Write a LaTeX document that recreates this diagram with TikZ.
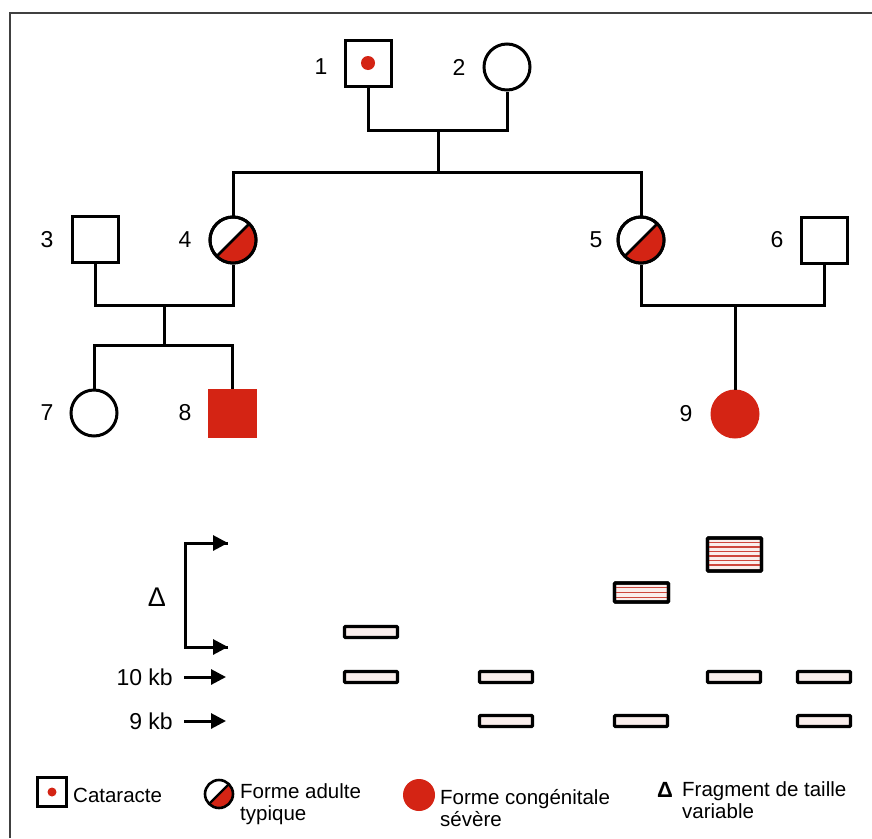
\documentclass[tikz,border=0pt]{standalone}
\usepackage{fontspec}
\setmainfont{Liberation Sans}
\usetikzlibrary{arrows.meta}
\definecolor{dred}{RGB}{212,36,20}
\definecolor{bandfill}{RGB}{250,238,236}
\definecolor{hatchred}{RGB}{205,70,60}
\tikzset{
  ln/.style={line width=3pt, black},
  sq/.style={draw, line width=3pt, minimum size=46pt, inner sep=0pt, fill=white},
  ci/.style={draw, circle, line width=3pt, minimum size=46pt, inner sep=0pt, fill=white},
  num/.style={font=\fontsize{23}{25}\selectfont, inner sep=0pt},
  leg/.style={font=\fontsize{20.5}{21.5}\selectfont, inner sep=0pt, align=left, anchor=west},
  band/.style={draw, line width=3.4pt, fill=bandfill, rounded corners=1pt},
  gelarrow/.style={line width=3pt, -{Triangle[length=15pt,width=15pt]}},
}
\begin{document}
\begin{tikzpicture}[x=1pt,y=-1pt]
\useasboundingbox (0,0) rectangle (872,838);
\fill[white] (0,0) rectangle (872,838);
% frame
\draw[line width=2pt, black!75] (10,838) -- (10,13) -- (872,13);

% ---------------- pedigree -----------------
\node[sq] (p1) at (368,63) {};
\fill[dred] (p1.center) circle (7);
\node[ci] (p2) at (507,67) {};
\node[num] (l1) at (321,67) {1};
\node[num] (l2) at (459,67) {2};

\node[sq] (p3) at (95,239) {};
\node[ci] (p4) at (233,240) {};
\node[num] (l3) at (47,240) {3};
\node[num] (l4) at (185,240) {4};

\node[ci] (p5) at (641,240) {};
\node[sq] (p6) at (824,240) {};
\node[num] (l5) at (596,240) {5};
\node[num] (l6) at (777,240) {6};

\node[ci] (p7) at (94,413) {};
\node[sq, fill=dred, draw=dred] (p8) at (232,413) {};
\node[num] (l7) at (47,413) {7};
\node[num] (l8) at (185,413) {8};

\node[ci, fill=dred, draw=dred] (p9) at (735,414) {};
\node[num] (l9) at (686,414) {9};

% half-filled circles (y axis points down: -45 is upper right)
\foreach \n in {p4,p5}{
  \fill[dred] (\n.center) ++(-45:23) arc (-45:135:23) -- cycle;
  \draw[line width=3pt] (\n.center) circle (23);
  \draw[line width=2.6pt] (\n.center) ++(135:23) -- ++(-45:46);
}

% connections generation 1
\coordinate (m12) at (438,130);
\coordinate (s1) at (438,172);
\draw[ln] (p1.south) |- (m12) -| (p2.south);
\draw[ln] (m12) -- (s1);
\draw[ln] (p4.north) |- (s1) -| (p5.north);

% 3 x 4
\coordinate (m34) at (164,305);
\coordinate (s34) at (164,345);
\draw[ln] (p3.south) |- (m34) -| (p4.south);
\draw[ln] (m34) -- (s34);
\draw[ln] (p7.north) |- (s34) -| (p8.north);

% 5 x 6
\coordinate (m56) at (735,305);
\draw[ln] (p5.south) |- (m56) -| (p6.south);
\draw[ln] (m56) -- (p9.north);

% ---------------- gel -----------------
\coordinate (bt) at (185,543);
\coordinate (bb) at (185,647);
\coordinate (bte) at (228,543);
\coordinate (bbe) at (228,647);
\draw[line width=3pt] (bbe) -- (bb) -- (bt) -- (bte);
\draw[gelarrow] (bt) -- (bte);
\draw[gelarrow] (bb) -- (bbe);
\node[font=\fontsize{27}{29}\selectfont, inner sep=0pt] (delta) at (157,597) {Δ};

\node[num, anchor=east] (k10) at (173,677) {10 kb};
\node[num, anchor=east] (k9) at (173,721) {9 kb};
\coordinate (a10) at (226,677);
\coordinate (a9) at (226,721);
\draw[gelarrow] (k10.east) ++(11,0) -- (a10);
\draw[gelarrow] (k9.east) ++(11,0) -- (a9);

% bands (thin)
\foreach \x/\y in {371/632, 371/677, 506/677, 506/721, 641/721, 734/677, 824/677, 824/721}{
  \draw[band] (\x-26.5,\y-5.5) rectangle (\x+26.5,\y+5.5);
}
% hatched band lane 3
\draw[band] (614.5,583) rectangle (668.5,602);
\foreach \yy in {587.5,592.5,597.5}{
  \draw[hatchred, line width=1.4pt] (616,\yy) -- (667,\yy);
}
\draw[line width=3.4pt, rounded corners=1pt] (614.5,583) rectangle (668.5,602);
% hatched band lane 4
\draw[band] (707.5,538) rectangle (761.5,571);
\foreach \yy in {542.5,547,551.5,556,560.5,565}{
  \draw[hatchred, line width=1.4pt] (709,\yy) -- (760,\yy);
}
\draw[line width=3.4pt, rounded corners=1pt] (707.5,538) rectangle (761.5,571);

% ---------------- legend -----------------
\node[draw, line width=2.2pt, minimum size=29pt, inner sep=0pt] (lg1) at (52,792) {};
\fill[dred] (lg1.center) circle (4.5);
\node[leg] (lt1) at (73,795) {Cataracte};

\coordinate (lg2) at (219,794);
\fill[dred] (lg2) ++(-45:14) arc (-45:135:14) -- cycle;
\draw[line width=2.6pt] (lg2) circle (14);
\draw[line width=2.4pt] (lg2) ++(135:14) -- ++(-45:28);
\node[leg] (lt2) at (240,804) {Forme adulte\\typique};

\fill[dred] (419,795) circle (16);
\coordinate (lg3) at (419,795);
\node[leg] (lt3) at (440,808) {Forme congénitale\\sévère};

\node[font=\bfseries\fontsize{22}{23}\selectfont, inner sep=0pt] (lg4) at (665,790) {Δ};
\node[leg] (lt4) at (682,800) {Fragment de taille\\variable};
\end{tikzpicture}
\end{document}
